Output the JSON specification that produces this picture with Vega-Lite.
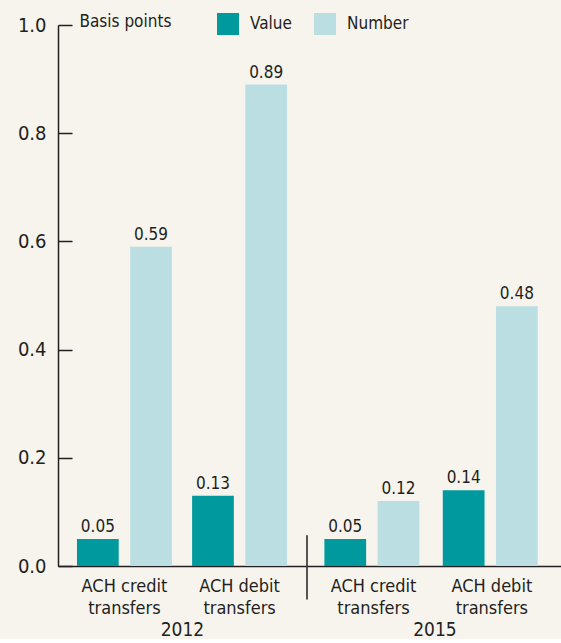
{
  "$schema": "https://vega.github.io/schema/vega-lite/v6.json",
  "background": "#f7f4ee",
  "padding": {"left": 17, "top": 12, "right": 0, "bottom": 0},
  "data": {
    "values": [
      {"year": "2012", "type": "ACH credit transfers", "series": "Value", "bp": 0.05},
      {"year": "2012", "type": "ACH credit transfers", "series": "Number", "bp": 0.59},
      {"year": "2012", "type": "ACH debit transfers", "series": "Value", "bp": 0.13},
      {"year": "2012", "type": "ACH debit transfers", "series": "Number", "bp": 0.89},
      {"year": "2015", "type": "ACH credit transfers", "series": "Value", "bp": 0.05},
      {"year": "2015", "type": "ACH credit transfers", "series": "Number", "bp": 0.12},
      {"year": "2015", "type": "ACH debit transfers", "series": "Value", "bp": 0.14},
      {"year": "2015", "type": "ACH debit transfers", "series": "Number", "bp": 0.48}
    ]
  },
  "spacing": 0,
  "resolve": {"scale": {"y": "shared", "color": "shared"}},
  "hconcat": [
    {
      "width": 248,
      "height": 541,
      "transform": [{"filter": "datum.year == '2012'"}],
      "encoding": {
        "x": {
          "field": "type",
          "type": "nominal",
          "scale": {"domain": ["ACH credit transfers", "ACH debit transfers"], "paddingInner": 0, "paddingOuter": 0.077},
          "axis": {
            "title": "2012",
            "titleFontSize": 19,
            "titleFontWeight": "normal",
            "titleColor": "#231f20",
            "titlePadding": 3,
            "labelAngle": 0,
            "labelExpr": "[replace(datum.label, ' transfers', ''), 'transfers']",
            "labelFontSize": 18,
            "labelLineHeight": 22,
            "labelPadding": 11,
            "labelColor": "#231f20",
            "ticks": false,
            "domainColor": "#231f20",
            "domainWidth": 1.5
          }
        },
        "xOffset": {
          "field": "series",
          "type": "nominal",
          "scale": {"domain": ["Value", "Number"], "paddingInner": 0.215, "paddingOuter": 0.19}
        },
        "y": {
          "field": "bp",
          "type": "quantitative",
          "scale": {"domain": [0, 1], "nice": false},
          "axis": {
            "title": "Basis points",
            "titleAngle": 0,
            "titleAlign": "left",
            "titleBaseline": "alphabetic",
            "titleX": 21,
            "titleY": 1,
            "titleFontSize": 17,
            "titleFontWeight": "normal",
            "titleColor": "#231f20",
            "values": [0, 0.2, 0.4, 0.6, 0.8, 1.0],
            "format": ".1f",
            "labelFontSize": 20,
            "labelColor": "#231f20",
            "tickSize": -14,
            "tickColor": "#231f20",
            "tickWidth": 1.5,
            "labelPadding": 26,
            "domainColor": "#231f20",
            "domainWidth": 1.5,
            "grid": false
          }
        }
      },
      "layer": [
        {
          "mark": {"type": "bar"},
          "encoding": {
            "color": {
              "field": "series",
              "type": "nominal",
              "scale": {"domain": ["Value", "Number"], "range": ["#009a9e", "#bbdee3"]},
              "legend": {
                "title": null,
                "orient": "none",
                "direction": "horizontal",
                "legendX": 159,
                "legendY": -12,
                "symbolType": "square",
                "symbolSize": 484,
                "symbolStrokeWidth": 0,
                "symbolOpacity": 1,
                "labelFontSize": 17,
                "labelColor": "#231f20",
                "labelOffset": 11,
                "columnPadding": 22
              }
            }
          }
        },
        {
          "mark": {"type": "text", "baseline": "alphabetic", "dy": -7, "fontSize": 17, "color": "#231f20"},
          "encoding": {
            "text": {"field": "bp", "type": "quantitative", "format": ".2f"}
          }
        }
      ]
    },
    {
      "width": 255,
      "height": 541,
      "transform": [{"filter": "datum.year == '2015'"}],
      "encoding": {
        "x": {
          "field": "type",
          "type": "nominal",
          "scale": {"domain": ["ACH credit transfers", "ACH debit transfers"], "paddingInner": 0, "paddingOuter": 0.077, "align": 0.4},
          "axis": {
            "title": "2015",
            "titleFontSize": 19,
            "titleFontWeight": "normal",
            "titleColor": "#231f20",
            "titlePadding": 3,
            "labelAngle": 0,
            "labelExpr": "[replace(datum.label, ' transfers', ''), 'transfers']",
            "labelFontSize": 18,
            "labelLineHeight": 22,
            "labelPadding": 11,
            "labelColor": "#231f20",
            "ticks": false,
            "domainColor": "#231f20",
            "domainWidth": 1.5
          }
        },
        "xOffset": {
          "field": "series",
          "type": "nominal",
          "scale": {"domain": ["Value", "Number"], "paddingInner": 0.215, "paddingOuter": 0.19}
        },
        "y": {
          "field": "bp",
          "type": "quantitative",
          "scale": {"domain": [0, 1], "nice": false},
          "axis": null
        }
      },
      "layer": [
        {
          "mark": {"type": "bar"},
          "encoding": {
            "color": {
              "field": "series",
              "type": "nominal",
              "scale": {"domain": ["Value", "Number"], "range": ["#009a9e", "#bbdee3"]},
              "legend": null
            }
          }
        },
        {
          "mark": {"type": "text", "baseline": "alphabetic", "dy": -7, "fontSize": 17, "color": "#231f20"},
          "encoding": {
            "text": {"field": "bp", "type": "quantitative", "format": ".2f"}
          }
        },
        {
          "transform": [{"filter": "datum.series == 'Value' && datum.type == 'ACH credit transfers'"}],
          "mark": {"type": "rule", "color": "#231f20", "strokeWidth": 1.5},
          "encoding": {
            "x": {"value": 0},
            "y": {"datum": 0.057},
            "y2": {"datum": -0.062},
            "xOffset": null
          }
        }
      ]
    }
  ],
  "config": {
    "font": "DejaVu Sans Condensed, sans-serif",
    "view": {"stroke": null},
    "axis": {"labelFont": "DejaVu Sans Condensed, sans-serif", "titleFont": "DejaVu Sans Condensed, sans-serif"},
    "legend": {"labelFont": "DejaVu Sans Condensed, sans-serif"}
  }
}
